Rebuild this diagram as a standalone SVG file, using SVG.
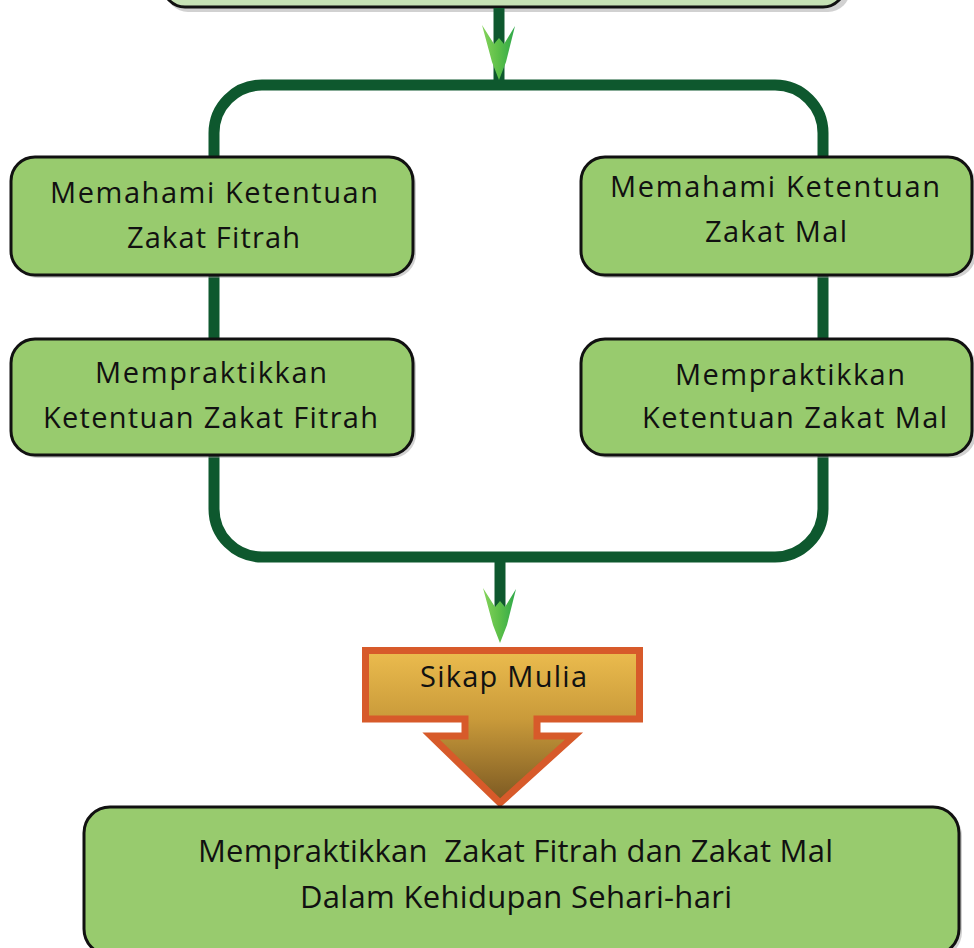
<svg xmlns="http://www.w3.org/2000/svg" width="974" height="948" viewBox="0 0 974 948">
<defs>
<style>
.box{fill:#98cb6e;stroke:#111;stroke-width:3}
.shadow{fill:#9a9a9a;opacity:0.45}
.t{font-family:"Open Sans","Noto Sans",sans-serif;font-size:29px;fill:#111}
.tb{font-family:"Open Sans","Noto Sans",sans-serif;font-size:31px;fill:#111;white-space:pre}
.conn{stroke:#0e582e;stroke-width:11;fill:none}
</style>
<linearGradient id="gArrow" x1="0" y1="0" x2="1" y2="0">
<stop offset="0" stop-color="#86d35c"/>
<stop offset="0.5" stop-color="#5cbf48"/>
<stop offset="1" stop-color="#2ea84a"/>
</linearGradient>
<linearGradient id="gSikap" x1="0" y1="0" x2="0" y2="1">
<stop offset="0" stop-color="#ecbc4e"/>
<stop offset="0.45" stop-color="#c99a3a"/>
<stop offset="1" stop-color="#7a5822"/>
</linearGradient>
<polygon id="ah" points="-17,-55 -5,-36 0,-42 5,-36 16,-54 7,-18 0,0 -7,-18" fill="url(#gArrow)"/>
</defs>

<g id="top-box">
<rect class="shadow" x="166" y="-58" width="684" height="70" rx="22"/>
<rect x="163" y="-62" width="682" height="69" rx="22" fill="#c6e2b5" stroke="#111" stroke-width="3"/>
</g>

<g id="connectors">
<rect class="conn" x="214" y="85" width="609" height="472" rx="48"/>
<line class="conn" x1="499" y1="8" x2="499" y2="85"/>
<line class="conn" x1="500" y1="557" x2="500" y2="615"/>
<use href="#ah" x="499" y="80"/>
<use href="#ah" x="500" y="643"/>
</g>

<g id="box-fitrah-1">
<rect class="shadow" x="14" y="160" width="402" height="118" rx="24"/>
<rect class="box" x="11" y="157" width="402" height="118" rx="24"/>
<text class="t" x="50" y="203" textLength="328" lengthAdjust="spacing">Memahami Ketentuan</text>
<text class="t" x="127" y="248" textLength="173" lengthAdjust="spacing">Zakat Fitrah</text>
</g>

<g id="box-fitrah-2">
<rect class="shadow" x="14" y="342" width="402" height="116" rx="24"/>
<rect class="box" x="11" y="339" width="402" height="116" rx="24"/>
<text class="t" x="95" y="383" textLength="232" lengthAdjust="spacing">Mempraktikkan</text>
<text class="t" x="43" y="428" textLength="335" lengthAdjust="spacing">Ketentuan Zakat Fitrah</text>
</g>

<g id="box-mal-1">
<rect class="shadow" x="584" y="160" width="392" height="118" rx="24"/>
<rect class="box" x="581" y="157" width="391" height="118" rx="24"/>
<text class="t" x="610" y="197" textLength="330" lengthAdjust="spacing">Memahami Ketentuan</text>
<text class="t" x="705" y="242" textLength="142" lengthAdjust="spacing">Zakat Mal</text>
</g>

<g id="box-mal-2">
<rect class="shadow" x="584" y="342" width="392" height="116" rx="24"/>
<rect class="box" x="581" y="339" width="391" height="116" rx="24"/>
<text class="t" x="675" y="385" textLength="230" lengthAdjust="spacing">Mempraktikkan</text>
<text class="t" x="642" y="428" textLength="305" lengthAdjust="spacing">Ketentuan Zakat Mal</text>
</g>

<g id="sikap-mulia">
<path d="M365.5,650.5 H639.5 V719 H537 V736 H574 L500,803 L431,736 H465 V719 H365.5 Z" fill="url(#gSikap)" stroke="#d75a2a" stroke-width="7" stroke-linejoin="miter"/>
<text x="420" y="687" textLength="167" lengthAdjust="spacing" style="font-family:'Open Sans','Noto Sans',sans-serif;font-size:29px;fill:#111">Sikap Mulia</text>
</g>

<g id="bottom-box">
<rect class="shadow" x="87" y="810" width="875" height="148" rx="26"/>
<rect class="box" x="84" y="807" width="875" height="148" rx="26"/>
<text class="tb" x="198" y="862" textLength="635" lengthAdjust="spacing" xml:space="preserve">Mempraktikkan  Zakat Fitrah dan Zakat Mal</text>
<text class="tb" x="300" y="908" textLength="432" lengthAdjust="spacing">Dalam Kehidupan Sehari-hari</text>
</g>
</svg>
